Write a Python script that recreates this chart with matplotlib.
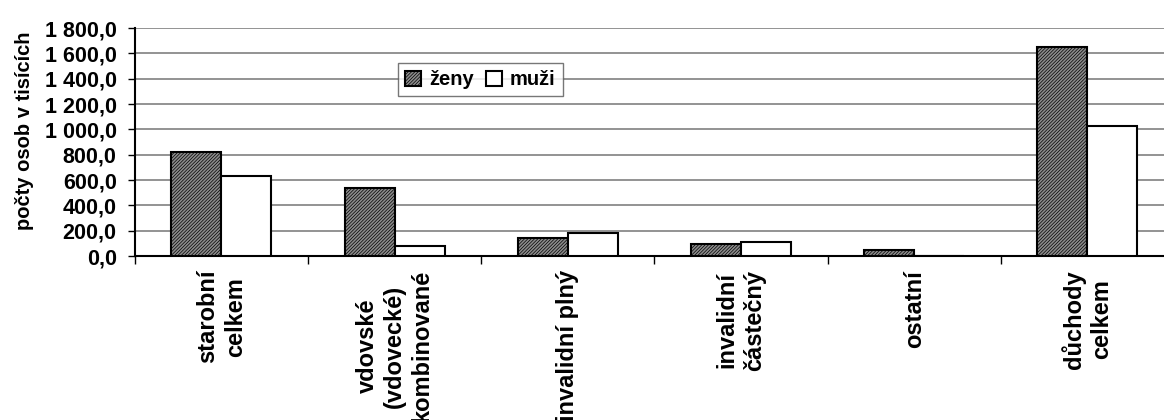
import matplotlib
matplotlib.use("Agg")
import matplotlib.pyplot as plt
import numpy as np
from matplotlib.ticker import FuncFormatter

categories = ["starobní\ncelkem", "vdovské\n(vdovecké)\nkombinované", "invalidní plný",
              "invalidní\nčástečný", "ostatní", "důchody\ncelkem"]
zeny = [823, 537, 140, 95, 50, 1647]
muzi = [634, 81, 185, 110, 0, 1028]
series_names = ["ženy", "muži"]

plt.rcParams['font.family'] = ['Liberation Sans', 'DejaVu Sans']
plt.rcParams['font.weight'] = 'bold'
plt.rcParams['hatch.linewidth'] = 0.5

W, H = 1164, 420
fig = plt.figure(figsize=(W/100, H/100), dpi=100)
left = 134.8 / W
bottom = (H - 256) / H
top = (H - 28) / H
right = 1174 / W
ax = fig.add_axes([left, bottom, right - left, top - bottom])

x = np.arange(len(categories)) + 0.5
bw = 50 / 173.2
ax.bar(x - bw/2, zeny, width=bw, facecolor='#8c8c8c', edgecolor='black', hatch='//////////',
       linewidth=1.5, label=series_names[0], zorder=3)
ax.bar(x + bw/2, muzi, width=bw, facecolor='white', edgecolor='black',
       linewidth=1.5, label=series_names[1], zorder=3)

ax.set_xlim(0, len(categories))
ax.set_ylim(0, 1800)
ax.set_yticks(np.arange(0, 1801, 200))

def fmt(v, pos):
    s = f"{v:,.1f}".replace(",", " ").replace(".", ",")
    return s
ax.yaxis.set_major_formatter(FuncFormatter(fmt))
ax.yaxis.grid(True, color='#808080', linewidth=1.2, zorder=0)
ax.set_axisbelow(True)

ax.set_xticks(np.arange(0, len(categories) + 1))
ax.set_xticklabels([])
ax.set_xticks(x, minor=True)
ax.set_xticklabels(categories, minor=True, rotation=90, ha='center', va='top',
                   multialignment='center', fontsize=17, fontweight='bold',
                   linespacing=1.25)
ax.tick_params(axis='x', which='minor', length=0, pad=10)
ax.tick_params(axis='x', which='major', length=6, width=1, direction='out')
ax.tick_params(axis='y', length=5, width=1, direction='out', pad=8, labelsize=15.5)
for lab in ax.get_yticklabels():
    lab.set_fontweight('bold')

for s in ['top', 'right']:
    ax.spines[s].set_visible(False)
for s in ['left', 'bottom']:
    ax.spines[s].set_linewidth(1.5)
    ax.spines[s].set_color('black')

ax.set_ylabel("počty osob v tisících", fontsize=14.5, fontweight='bold')
ax.yaxis.set_label_coords(-0.097, 0.55)

leg = ax.legend(ncol=2, loc='upper left', bbox_to_anchor=(0.253, 0.845),
                frameon=True, fancybox=False, edgecolor='#555555', fontsize=14.5,
                handlelength=0.8, handleheight=0.8, handletextpad=0.4,
                columnspacing=0.6, borderpad=0.35, borderaxespad=0)
leg.get_frame().set_linewidth(1.0)
for t in leg.get_texts():
    t.set_fontweight('bold')

fig.savefig("out.png", dpi=100)
